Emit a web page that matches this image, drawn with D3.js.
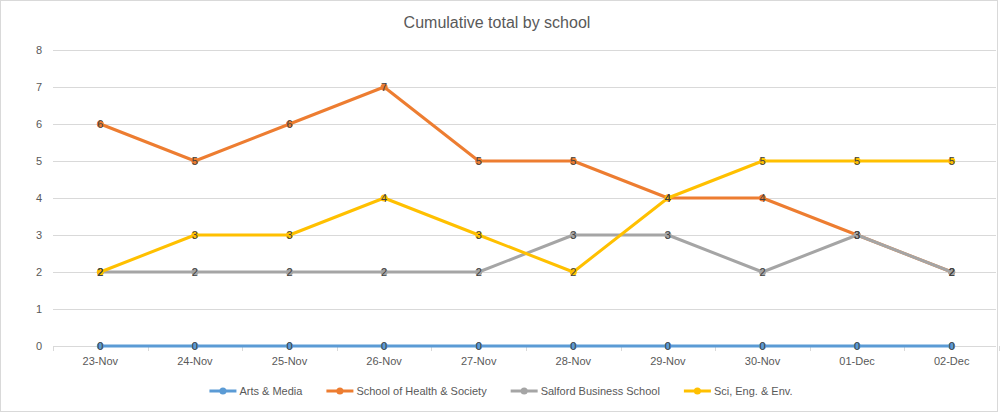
<!DOCTYPE html>
<html>
<head>
<meta charset="utf-8">
<script src="https://cdn.jsdelivr.net/npm/d3@7"></script>
<style>
  body { margin: 0; background: #fff; }
  text { font-family: "Liberation Sans", Arial, sans-serif; }
</style>
</head>
<body>
<div id="chart"></div>
<script>
const dates = ['23-Nov', '24-Nov', '25-Nov', '26-Nov', '27-Nov', '28-Nov', '29-Nov', '30-Nov', '01-Dec', '02-Dec'];
const seriesNames = ['Arts & Media', 'School of Health & Society', 'Salford Business School', 'Sci, Eng. & Env.'];
const artsMedia = [0, 0, 0, 0, 0, 0, 0, 0, 0, 0];
const healthSociety = [6, 5, 6, 7, 5, 5, 4, 4, 3, 2];
const salfordBusiness = [2, 2, 2, 2, 2, 3, 3, 2, 3, 2];
const sciEngEnv = [2, 3, 3, 4, 3, 2, 4, 5, 5, 5];
const yTicks = [0, 1, 2, 3, 4, 5, 6, 7, 8];
const colors = ['#5b9bd5', '#ed7d31', '#a5a5a5', '#ffc000'];

const seriesValues = [artsMedia, healthSociety, salfordBusiness, sciEngEnv];

const width = 1000,
  height = 412,
  margin = { top: 50, right: 1, bottom: 66, left: 53 };

const svg = d3.select('div#chart').append('svg')
  .attr('width', width)
  .attr('height', height);

// chart border
svg.append('rect')
  .attr('x', 0.5).attr('y', 0.5)
  .attr('width', 997).attr('height', height - 1)
  .attr('fill', '#fff')
  .attr('stroke', '#d9d9d9');

svg.append('text')
  .attr('x', 497).attr('y', 28)
  .attr('text-anchor', 'middle')
  .attr('font-size', 16)
  .attr('fill', '#595959')
  .text('Cumulative total by school');

const xScale = d3.scaleBand()
  .domain(dates)
  .range([margin.left, width - margin.right]);

const yScale = d3.scaleLinear()
  .domain([0, 8])
  .range([height - margin.bottom, margin.top]);

// gridlines
svg.append('g')
  .selectAll('line')
  .data(yTicks)
  .join('line')
  .attr('x1', margin.left).attr('x2', 996)
  .attr('y1', d => Math.round(yScale(d)) + 0.5)
  .attr('y2', d => Math.round(yScale(d)) + 0.5)
  .attr('stroke', '#d9d9d9');

// y labels
svg.append('g')
  .selectAll('text')
  .data(yTicks)
  .join('text')
  .attr('x', 42)
  .attr('y', d => yScale(d) + 4)
  .attr('text-anchor', 'end')
  .attr('font-size', 11)
  .attr('fill', '#595959')
  .text(d => d);

// x ticks at band edges
const edges = dates.map(d => xScale(d)).concat([xScale(dates[dates.length - 1]) + xScale.bandwidth()]);
svg.append('g')
  .selectAll('line')
  .data(edges)
  .join('line')
  .attr('x1', d => Math.round(d) + 0.5).attr('x2', d => Math.round(d) + 0.5)
  .attr('y1', yScale(0)).attr('y2', yScale(0) + 5)
  .attr('stroke', '#d9d9d9');

svg.append('g')
  .selectAll('text')
  .data(dates)
  .join('text')
  .attr('x', d => xScale(d) + xScale.bandwidth() / 2)
  .attr('y', yScale(0) + 19)
  .attr('text-anchor', 'middle')
  .attr('font-size', 11)
  .attr('fill', '#595959')
  .text(d => d);

const xc = i => xScale(dates[i]) + xScale.bandwidth() / 2;

const line = d3.line()
  .x((d, i) => xc(i))
  .y(d => yScale(d));

// lines and markers
seriesValues.forEach((vals, s) => {
  const g = svg.append('g');
  g.append('path')
    .datum(vals)
    .attr('d', line)
    .attr('fill', 'none')
    .attr('stroke', colors[s])
    .attr('stroke-width', 3)
    .attr('stroke-linejoin', 'round');
  g.selectAll('circle')
    .data(vals)
    .join('circle')
    .attr('cx', (d, i) => xc(i))
    .attr('cy', d => yScale(d))
    .attr('r', 3.5)
    .attr('fill', colors[s]);
});

// data labels on top
seriesValues.forEach((vals) => {
  svg.append('g')
    .selectAll('text')
    .data(vals)
    .join('text')
    .attr('x', (d, i) => xc(i))
    .attr('y', d => yScale(d) + 4)
    .attr('text-anchor', 'middle')
    .attr('font-size', 11)
    .attr('fill', '#404040')
    .text(d => d);
});

// legend
const legend = svg.append('g').attr('transform', 'translate(0, 391)');
let lx = 0;
const items = [];
seriesNames.forEach((name, s) => {
  const it = legend.append('g');
  it.append('line')
    .attr('x1', 0).attr('x2', 27)
    .attr('y1', 0).attr('y2', 0)
    .attr('stroke', colors[s])
    .attr('stroke-width', 3);
  it.append('circle')
    .attr('cx', 13.5).attr('cy', 0).attr('r', 3.5)
    .attr('fill', colors[s]);
  const t = it.append('text')
    .attr('x', 30).attr('y', 4)
    .attr('font-size', 11)
    .attr('fill', '#595959')
    .text(name);
  const w = 30 + t.node().getComputedTextLength();
  it.attr('transform', 'translate(' + lx + ',0)');
  lx += w + 24;
});
const total = lx - 24;
legend.attr('transform', 'translate(' + (501 - total / 2) + ', 391)');
</script>
</body>
</html>
